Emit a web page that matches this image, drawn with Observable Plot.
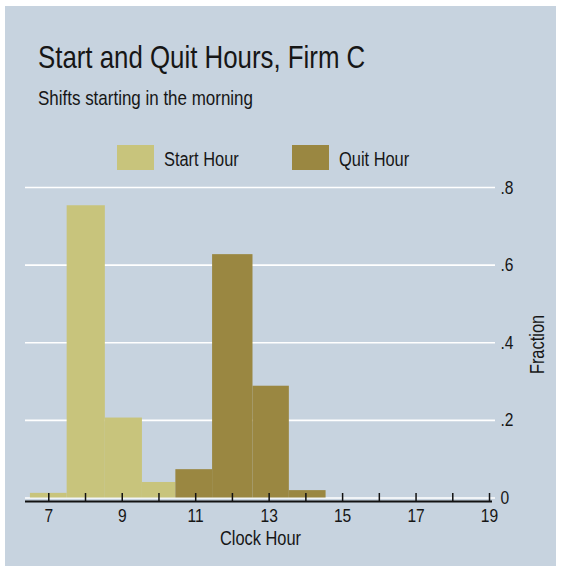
<!DOCTYPE html>
<html><head><meta charset="utf-8">
<script src="https://cdn.jsdelivr.net/npm/d3@7"></script>
<script src="https://cdn.jsdelivr.net/npm/@observablehq/plot@0.6"></script>
<style>
html,body{margin:0;padding:0;background:#fff;width:565px;height:571px;overflow:hidden;}
body{position:relative;font-family:"Liberation Sans",Arial,sans-serif;color:#161616;}
#panel{position:absolute;left:5px;top:6px;width:551px;height:560px;background:#c7d3df;}
.t{position:absolute;white-space:nowrap;line-height:1;transform:scaleX(0.82);transform-origin:0 0;}
#title{left:38px;top:41.5px;font-size:31.5px;}
#subtitle{left:38px;top:87.5px;font-size:20.7px;}
.sw{position:absolute;width:37px;height:25px;top:144.5px;}
.lt{top:148.5px;font-size:20px;}
#chart{position:absolute;left:0;top:175px;}
</style></head>
<body>
<div id="panel"></div>
<div class="t" id="title">Start and Quit Hours, Firm C</div>
<div class="t" id="subtitle">Shifts starting in the morning</div>
<div id="legend"></div>
<div id="chart"></div>
<script>
const seriesNames = ["Start Hour", "Quit Hour"];
const seriesColors = ["#c8c47c", "#9a8741"];
// histogram bins (clock hour edges) and fractions
const startBinEdges = [6.5, 7.5, 8.54, 9.55, 10.46];
const startFractions = [0.012, 0.753, 0.206, 0.04];
const quitBinEdges = [10.46, 11.46, 12.56, 13.55, 14.55];
const quitFractions = [0.073, 0.627, 0.288, 0.019];
const xTickHours = [7, 8, 9, 10, 11, 12, 13, 14, 15, 16, 17, 18, 19];
const xLabelHours = [7, 9, 11, 13, 15, 17, 19];
const yTicks = [0, 0.2, 0.4, 0.6, 0.8];
const yTickLabels = ["0", ".2", ".4", ".6", ".8"];
const xTitle = "Clock Hour";
const yTitle = "Fraction";

const startRows = startFractions.map((f, i) => ({lo: startBinEdges[i], hi: startBinEdges[i + 1], frac: f}));
const quitRows = quitFractions.map((f, i) => ({lo: quitBinEdges[i], hi: quitBinEdges[i + 1], frac: f}));

// legend (HTML)
const legend = document.getElementById("legend");
const legendPos = [{sw: 116.5, tx: 164}, {sw: 291.5, tx: 338.5}];
seriesNames.forEach((name, i) => {
  const s = document.createElement("div");
  s.className = "sw";
  s.style.left = legendPos[i].sw + "px";
  s.style.background = seriesColors[i];
  legend.appendChild(s);
  const t = document.createElement("div");
  t.className = "t lt";
  t.style.left = legendPos[i].tx + "px";
  t.textContent = name;
  legend.appendChild(t);
});

const font = '"Liberation Sans",Arial,sans-serif';
const chart = Plot.plot({
  width: 565,
  height: 396,
  marginTop: 12,
  marginBottom: 70,
  marginLeft: 25,
  marginRight: 70,
  x: {domain: [6.366, 19.163]},
  y: {domain: [0, 0.8], insetBottom: 3.5},
  style: {background: "transparent", fontFamily: font, fontSize: "19px", color: "#161616", overflow: "visible"},
  marks: [
    Plot.ruleY(yTicks, {stroke: "white", strokeWidth: 1.6}),
    Plot.rectY(startRows, {x1: "lo", x2: "hi", y: "frac", fill: seriesColors[0]}),
    Plot.rectY(quitRows, {x1: "lo", x2: "hi", y: "frac", fill: seriesColors[1]}),
    Plot.ruleY([0], {dy: 3.5, stroke: "#111", strokeWidth: 2, insetRight: 3}),
    Plot.ruleX(xTickHours, {x: d => d, insetTop: 306, stroke: "#111", strokeWidth: 1.5}),
    Plot.axisX(xLabelHours, {tickSize: 0, tickPadding: 7, label: null, fontSize: 19, tickFormat: d => String(d)}),
    Plot.axisY(yTicks, {anchor: "right", tickSize: 0, tickPadding: 5, label: null, fontSize: 19,
      tickFormat: d => yTickLabels[yTicks.indexOf(d)]}),
    Plot.text([xTitle], {frameAnchor: "bottom", dy: 37, lineAnchor: "middle", textAnchor: "middle", text: d => d, fontSize: 20}),
    Plot.text([yTitle], {frameAnchor: "right", dx: 42, rotate: -90, lineAnchor: "middle", textAnchor: "middle", text: d => d, fontSize: 20})
  ]
});
document.getElementById("chart").appendChild(chart);
// condense SVG text horizontally (narrow face look)
chart.querySelectorAll("text").forEach(el => {
  const len = el.getComputedTextLength();
  if (len > 0) {
    el.setAttribute("textLength", (len * 0.82).toFixed(2));
    el.setAttribute("lengthAdjust", "spacingAndGlyphs");
  }
});
</script>
</body></html>
